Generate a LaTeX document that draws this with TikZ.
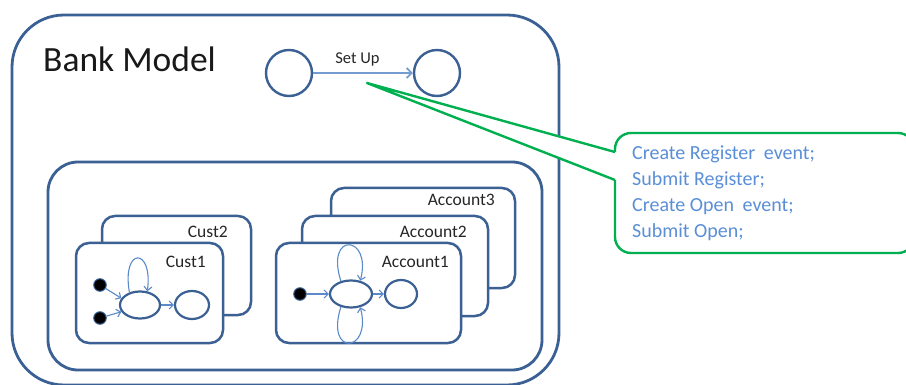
\documentclass[tikz,border=0pt]{standalone}
\usepackage{fontspec}
\setmainfont{Carlito}
\usetikzlibrary{arrows.meta,shapes.geometric}
\definecolor{frameblue}{HTML}{3B6093}
\definecolor{flowblue}{HTML}{5B8AC9}
\definecolor{notegreen}{RGB}{0,176,80}
\definecolor{notetext}{HTML}{5A8FD8}
\begin{document}
\begin{tikzpicture}[x=1pt,y=-1pt,
  frame/.style={draw=frameblue, line width=2.8pt, fill=white},
  card/.style={draw=frameblue, line width=2.5pt, fill=white, rounded corners=13pt},
  bigstate/.style={circle, draw=frameblue, line width=2.4pt, minimum size=46pt, inner sep=0pt, fill=white},
  state/.style={ellipse, draw=frameblue, line width=2.2pt, inner sep=0pt, fill=white},
  startdot/.style={circle, fill=black, draw=frameblue, line width=1pt, minimum size=12.5pt, inner sep=0pt},
  flow/.style={draw=flowblue, line width=1.1pt, -{Straight Barb[length=4pt,width=8pt]}},
  cardlabel/.style={anchor=base east, font=\fontsize{17.5}{20}\selectfont, text=black!85, inner sep=0pt},
  notestyle/.style={draw=notegreen, line width=2.4pt},
  noteline/.style={anchor=base west, font=\fontsize{20}{24}\selectfont, text=notetext, inner sep=0pt}
]
\useasboundingbox (0,0) rectangle (906,385);

% outer model frame and its title
\draw[frame, rounded corners=52pt] (12,15) rectangle (559,385);
\node[anchor=base west, font=\fontsize{35.5}{40}\selectfont, text=black!90, inner sep=0pt] (title) at (43,72) {Bank Model};

% set-up transition
\node[bigstate] (s1) at (289,73) {};
\node[bigstate] (s2) at (437,73) {};
\draw[draw=flowblue!85, line width=1.8pt, -{Straight Barb[length=5pt,width=10pt]}] (s1.east) -- (s2.west);
\node[anchor=base, font=\fontsize{16.5}{20}\selectfont, text=black!85, inner sep=0pt] (setup) at (357.5,64) {Set Up};

% inner container
\draw[frame, rounded corners=30pt] (48,162) rectangle (542,370);

% customer cards
\draw[card] (102,216) rectangle (251,315);
\node[cardlabel] (cust2) at (228,237) {Cust2};
\draw[card] (76,243) rectangle (223,343);
\node[cardlabel] (cust1) at (206,268) {Cust1};

% account cards
\draw[card] (331,188) rectangle (515,288);
\node[cardlabel] (acc3) at (495,206) {Account3};
\draw[card] (302,216) rectangle (488,316);
\node[cardlabel] (acc2) at (467,237) {Account2};
\draw[card] (276,243) rectangle (461,343);
\node[cardlabel] (acc1) at (449,268) {Account1};

% customer state machine
\node[state, minimum width=40pt, minimum height=27pt] (cb) at (140,305) {};
\node[state, minimum width=34pt, minimum height=28pt] (cs) at (192,305) {};
\node[startdot] (cd1) at (100,285) {};
\node[startdot] (cd2) at (100,318) {};
\draw[flow] (cd1) -- (cb.160);
\draw[flow] (cd2) -- (cb.200);
\draw[flow] (cb.east) -- (cs.west);
\draw[flow] (cb.130) .. controls +(-8,-46) and +(6,-44) .. (cb.62);

% account state machine
\node[state, minimum width=42pt, minimum height=27pt] (ab) at (351,294) {};
\node[state, minimum width=32pt, minimum height=28pt] (as) at (401,294) {};
\node[startdot] (ad) at (300,294) {};
\draw[flow] (ad) -- (ab.west);
\draw[flow] (ab.east) -- (as.west);
\draw[flow] (ab.128) .. controls +(-16,-50) and +(12,-46) .. (ab.55);
\draw[flow] (ab.232) .. controls +(-16,50) and +(12,46) .. (ab.305);

% note callout
\coordinate (tip) at (367,83);
\draw[notestyle, fill=white, rounded corners=16pt] (615,133) rectangle (914,253);
\fill[white] (tip) -- (615,152) -- (619,152) -- (619,180) -- (615,180) -- cycle;
\draw[notestyle, line join=round] (615,152) -- (tip) -- (615,180);
\node[noteline] (n1) at (632,160) {Create Register\hspace{4pt} event;};
\node[noteline] (n2) at (632,186) {Submit Register;};
\node[noteline] (n3) at (632,211.5) {Create Open\hspace{4pt} event;};
\node[noteline] (n4) at (632,237) {Submit Open;};
\end{tikzpicture}
\end{document}
